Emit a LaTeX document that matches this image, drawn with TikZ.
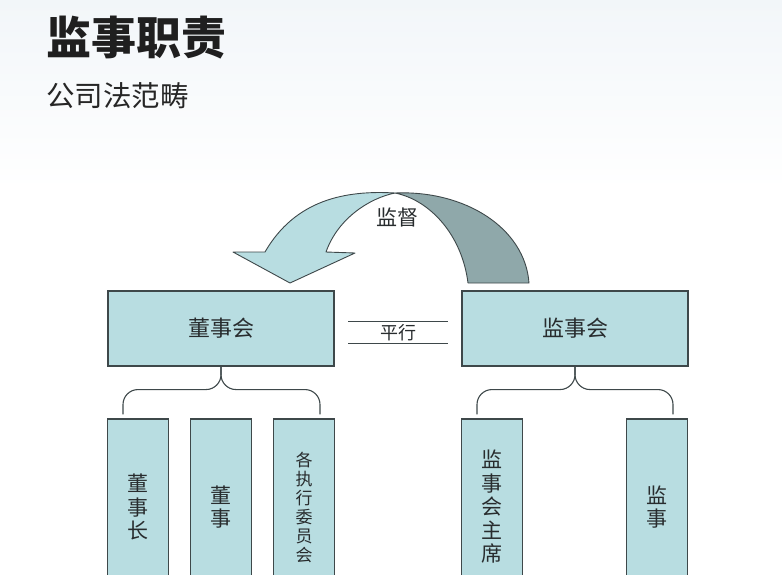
\documentclass[tikz,border=0pt]{standalone}
\usepackage{fontspec}
\setmainfont{Noto Sans CJK SC}
\usetikzlibrary{positioning,calc}
\definecolor{boxfill}{RGB}{184,221,225}
\definecolor{backfill}{RGB}{143,168,170}
\definecolor{edge}{RGB}{62,72,74}
\definecolor{ink}{RGB}{40,44,46}
\definecolor{bgtop}{RGB}{242,246,249}
\tikzset{
block/.style = {draw=edge, fill=boxfill, rectangle, line width=1.1pt, minimum width=226pt, minimum height=75pt, text=ink, font=\fontsize{22}{26}\selectfont},
post/.style = {draw=edge, fill=boxfill, rectangle, line width=1.1pt, minimum width=61pt, minimum height=176pt, inner sep=0pt, align=center, text=ink, font=\fontsize{21}{23.5}\selectfont},
rel/.style = {rectangle, minimum width=99pt, minimum height=21pt, inner sep=0pt, text=ink, font=\fontsize{18}{20}\selectfont},
brace/.style = {draw=edge, line width=1.1pt, rounded corners=15pt},
band/.style = {draw=edge, line width=0.9pt, line join=round},
}
\begin{document}
\begin{tikzpicture}[x=1pt, y=-1pt]
      \useasboundingbox (0,0) rectangle (782,574);
      \clip (0,0) rectangle (782,574);
      \fill [top color=bgtop, bottom color=white] (0,0) rectangle (782,190);
      \node [anchor=west, inner sep=0pt, font=\fontsize{45}{49}\selectfont\bfseries, text=black!88] (title) at (46,38) {监事职责};
      \node [anchor=west, inner sep=0pt, font=\fontsize{28.5}{32}\selectfont, text=black!85] (subtitle) at (46,96) {公司法范畴};
      % curved arrow
      \draw [band, fill=boxfill] (265,252) .. controls (295,200) and (345,190) .. (395,193)
         .. controls (370,198) and (338,218) .. (326,252) -- (355,253) -- (290,283) -- (233,252) -- cycle;
      \draw [band, fill=backfill] (395,193) .. controls (465,190) and (525,228) .. (529,283)
         -- (468,283) .. controls (462,235) and (430,200) .. (395,193) -- cycle;
      \node [name=jd, font=\fontsize{21}{24}\selectfont, text=ink] (jd) at (397,217) {监督};
      \node [block, name=dsh] (dsh) at (221,328.5) {董事会};
      \node [block, name=jsh, right of = dsh, node distance = 354pt] (jsh) {监事会};
      \node [rel, name=px] (px) at ($(dsh.east)!0.5!(jsh.west)+(0,4)$) {平行};
      \draw [edge, line width=1.1pt] (px.north west) -- (px.north east);
      \draw [edge, line width=1.1pt] (px.south west) -- (px.south east);
      \node [post, name=dsz] (dsz) at (138,507) {董\\事\\长};
      \node [post, name=ds, right of = dsz, node distance = 83pt] (ds) {董\\事};
      \node [post, name=zxw, right of = ds, node distance = 83pt, font=\fontsize{17}{19}\selectfont] (zxw) {各\\执\\行\\委\\员\\会};
      \node [post, name=jszx] (jszx) at (492,507) {监\\事\\会\\主\\席};
      \node [post, name=js, right of = jszx, node distance = 165pt] (js) {监\\事};
      \draw [brace] (dsh.south) -- ++(0,23) -| ([xshift=-15pt,yshift=4pt]dsz.north);
      \draw [brace] (dsh.south) -- ++(0,23) -| ([xshift=16pt,yshift=4pt]zxw.north);
      \draw [brace] (jsh.south) -- ++(0,23) -| ([xshift=-15pt,yshift=4pt]jszx.north);
      \draw [brace] (jsh.south) -- ++(0,23) -| ([xshift=16pt,yshift=4pt]js.north);
\end{tikzpicture}
\end{document}
